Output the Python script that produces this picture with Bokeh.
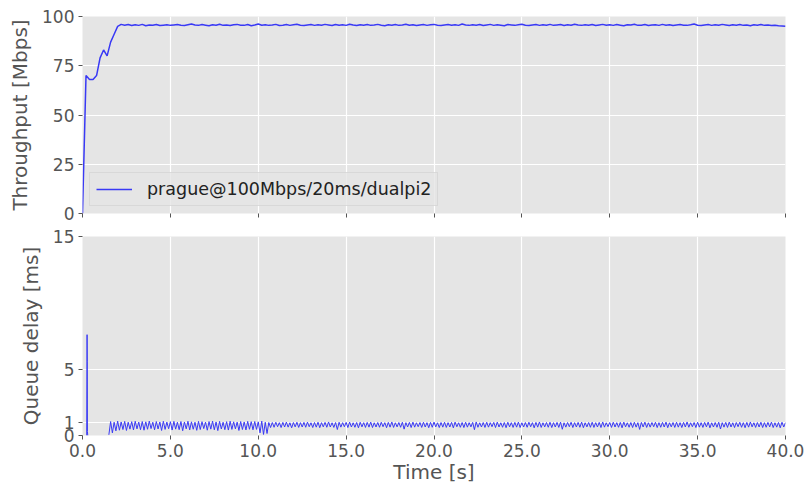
import numpy as np
from bokeh.plotting import figure
from bokeh.layouts import column
from bokeh.models import (FixedTicker, PrintfTickFormatter, Range1d, CustomLabelingPolicy)
from bokeh.embed import file_html
from bokeh.resources import INLINE

# ---------------- data ----------------
series_label = "prague@100Mbps/20ms/dualpi2"

# throughput [Mbps], sampled every ~0.2 s from 0 to 40 s
throughput = [
    0, 70, 68, 68, 70, 79, 83, 80, 87, 91, 95, 96,
    95.6, 95.9, 95.4, 95.8, 95.5, 96.0, 95.3, 95.7, 95.6, 95.9, 95.4, 95.6, 95.8, 95.5, 95.7, 95.9, 95.6, 95.4, 95.8, 96.2,
    95.7, 95.5, 95.9, 95.6, 95.3, 95.8, 95.6, 96.1, 95.5, 95.7, 95.4, 95.8, 96.0, 95.6, 95.5, 95.9, 95.3, 95.7, 96.2, 95.6,
    95.8, 95.5, 95.7, 96.0, 95.4, 95.6, 95.9, 95.5, 95.8, 96.1, 95.6, 95.4, 95.7, 95.9, 95.5, 95.8, 95.6, 96.0, 95.7, 95.4,
    95.9, 95.6, 95.8, 95.5, 96.1, 95.7, 95.4, 95.8, 95.6, 95.9, 95.5, 95.7, 96.0, 95.6, 95.3, 95.8, 95.6, 95.9, 95.5, 95.7,
    96.1, 95.6, 95.8, 95.4, 95.7, 95.9, 95.5, 95.8, 96.0, 95.6, 95.4, 95.7, 95.9, 95.6, 95.8, 95.5, 96.2, 95.7, 95.5, 95.8,
    95.6, 95.9, 95.4, 95.7, 96.0, 95.5, 95.8, 95.6, 95.3, 95.9, 95.7, 95.5, 95.8, 96.1, 95.6, 95.4, 95.7, 95.9, 95.5, 95.8,
    95.6, 96.0, 95.5, 95.7, 95.9, 95.4, 95.8, 95.6, 96.1, 95.7, 95.5, 95.8, 95.6, 95.9, 95.4, 95.7, 96.0, 95.6, 95.8, 95.5,
    95.9, 95.6, 95.3, 95.8, 95.7, 96.1, 95.5, 95.6, 95.9, 95.4, 95.7, 95.8, 95.5, 96.0, 95.6, 95.8, 95.4, 95.7, 95.9, 95.6,
    95.5, 95.8, 96.2, 95.6, 95.4, 95.7, 95.9, 95.5, 95.8, 95.6, 96.0, 95.7, 95.4, 95.8, 95.6, 95.9, 95.5, 95.7, 95.3, 95.8,
    95.6, 95.9, 95.5, 95.7, 95.4, 95.6, 95.3, 95.2, 95.0,
]
throughput_time = np.linspace(0.0, 40.0, len(throughput))

# queue delay [ms]: initial spike
qdelay_spike_time = [0.24, 0.26, 0.27, 0.28, 0.30]
qdelay_spike = [0.0, 7.6, 5.6, 0.3, 0.0]

# queue delay [ms]: from 1.5 s onwards, sampled every 0.1 s
qdelay = [
    0.05, 1.05, 0.20, 1.00, 0.35, 1.08, 0.40, 1.02, 0.45, 1.06, 0.38, 1.00, 0.48, 1.04, 0.42, 1.07, 0.50, 1.01, 0.44, 1.05,
    0.40, 1.03, 0.47, 1.08, 0.52, 1.00, 0.43, 1.05, 0.49, 1.02, 0.38, 1.07, 0.46, 1.01, 0.51, 1.04, 0.41, 1.06, 0.48, 1.00,
    0.44, 1.05, 0.36, 1.02, 0.50, 1.07, 0.42, 1.03, 0.47, 1.00, 0.39, 1.06, 0.45, 1.04, 0.52, 1.01, 0.40, 1.05, 0.48, 1.08,
    0.43, 1.02, 0.37, 1.06, 0.49, 1.00, 0.44, 1.04, 0.41, 1.07, 0.46, 1.03, 0.50, 1.01, 0.38, 1.05, 0.45, 1.02, 0.42, 1.06,
    0.47, 1.04, 0.43, 1.05, 0.46, 1.03, 0.20, 1.08, 0.08, 1.00, 0.15, 0.98, 0.60,
    0.98, 0.62, 1.00, 0.66, 0.97, 0.60, 0.99, 0.64, 1.01, 0.63, 0.96, 0.58, 0.98, 0.65, 1.00, 0.61, 0.97, 0.64, 0.99, 0.62,
    1.01, 0.66, 0.96, 0.60, 0.98, 0.63, 1.00, 0.59, 0.97, 0.65, 0.99, 0.62, 1.02, 0.64, 0.96, 0.61, 0.98, 0.45, 1.00, 0.63,
    0.97, 0.66, 0.99, 0.60, 1.01, 0.64, 0.96, 0.62, 0.98, 0.58, 1.00, 0.65, 0.97, 0.61, 0.99, 0.63, 1.01, 0.60, 0.96, 0.64,
    0.98, 0.62, 1.00, 0.66, 0.97, 0.59, 0.99, 0.63, 1.02, 0.61, 0.96, 0.65, 0.98, 0.62, 1.00, 0.48, 0.97, 0.64, 0.99, 0.60,
    1.01, 0.63, 0.96, 0.66, 0.98, 0.61, 1.00, 0.64, 0.97, 0.59, 0.99, 0.62, 1.01, 0.65, 0.96, 0.60, 0.98, 0.63, 1.00, 0.61,
    0.97, 0.64, 0.99, 0.58, 1.01, 0.66, 0.96, 0.62, 0.98, 0.60, 1.00, 0.63, 0.97, 0.65, 0.99, 0.44, 1.02, 0.62, 0.96, 0.64,
    0.98, 0.61, 1.00, 0.63, 0.97, 0.66, 0.99, 0.60, 1.01, 0.64, 0.96, 0.62, 0.98, 0.59, 1.00, 0.65, 0.97, 0.61, 0.99, 0.63,
    1.01, 0.60, 0.96, 0.64, 0.98, 0.62, 1.00, 0.66, 0.97, 0.58, 0.99, 0.63, 1.02, 0.61, 0.96, 0.65, 0.98, 0.62, 1.00, 0.60,
    0.97, 0.64, 0.99, 0.61, 1.01, 0.47, 0.96, 0.63, 0.98, 0.66, 1.00, 0.60, 0.97, 0.64, 0.99, 0.62, 1.01, 0.59, 0.96, 0.65,
    0.98, 0.62, 1.00, 0.61, 0.97, 0.64, 0.99, 0.60, 1.02, 0.63, 0.96, 0.66, 0.98, 0.61, 1.00, 0.64, 0.97, 0.62, 0.99, 0.58,
    1.01, 0.65, 0.96, 0.62, 0.98, 0.60, 1.00, 0.63, 0.97, 0.46, 0.99, 0.64, 1.01, 0.61, 0.96, 0.63, 0.98, 0.66, 1.00, 0.60,
    0.97, 0.62, 0.99, 0.64, 1.01, 0.59, 0.96, 0.65, 0.98, 0.61, 1.00, 0.63, 0.97, 0.60, 0.99, 0.64, 1.02, 0.62, 0.96, 0.66,
    0.98, 0.60, 1.00, 0.63, 0.97, 0.61, 0.99, 0.65, 1.01, 0.58, 0.96, 0.64, 0.98, 0.62, 1.00, 0.49, 0.97, 0.63, 0.99, 0.61,
    1.01, 0.64, 0.96, 0.60, 0.98, 0.66, 1.00, 0.62, 0.97, 0.59, 0.99, 0.63, 1.02, 0.65, 0.96, 0.61, 0.98, 0.64, 1.00, 0.60,
    0.97, 0.62, 0.99, 0.65, 1.01, 0.60, 0.96, 0.63, 0.98, 0.58, 1.00, 0.64, 0.97,
]
qdelay_time = np.linspace(1.5, 40.0, len(qdelay))

x_ticks = [0, 5, 10, 15, 20, 25, 30, 35, 40]
thr_ticks = [0, 25, 50, 75, 100]
qd_ticks = [0, 1, 5, 15]

# ---------------- style ----------------
FONT = "DejaVu Sans"
BG = "#E5E5E5"
GREY = "#555555"
LINE = "#3939F5"


def style(p, xlabels=True):
    p.background_fill_color = BG
    p.border_fill_color = "white"
    p.outline_line_color = None
    p.grid.grid_line_color = "white"
    p.grid.grid_line_width = 1.2
    for ax in (p.xaxis[0], p.yaxis[0]):
        ax.axis_line_color = None
        ax.major_tick_line_color = GREY
        ax.major_tick_out = 4
        ax.major_tick_in = 0
        ax.minor_tick_line_color = None
        ax.major_label_text_color = GREY
        ax.major_label_text_font = FONT
        ax.major_label_text_font_size = "17px"
        ax.major_label_standoff = 4
        ax.axis_label_text_color = GREY
        ax.axis_label_text_font = FONT
        ax.axis_label_text_font_size = "20px"
        ax.axis_label_text_font_style = "normal"
        ax.axis_label_standoff = 7
    p.xaxis.ticker = FixedTicker(ticks=x_ticks)
    p.xaxis.formatter = PrintfTickFormatter(format="%.1f")
    if not xlabels:
        # keep the tick marks, draw no tick labels
        p.xaxis.major_label_policy = CustomLabelingPolicy(
            code="for (const i of indices) { indices.unset(i) } return indices")
        p.xaxis.major_label_text_font_size = "1px"
        p.xaxis.major_label_standoff = 0


W = 806
LEFT = 82
RIGHT = 21

p1 = figure(width=W, height=225, output_backend="svg", toolbar_location=None,
            x_range=Range1d(0, 40), y_range=Range1d(0, 100),
            min_border_left=LEFT, min_border_right=RIGHT, min_border_top=16, min_border_bottom=12)
style(p1, xlabels=False)
p1.yaxis.ticker = FixedTicker(ticks=thr_ticks)
p1.yaxis.axis_label = "Throughput [Mbps]"
p1.line(throughput_time, throughput, line_color=LINE, line_width=1.5, legend_label=series_label)

legend = p1.legend[0]
legend.location = "bottom_left"
legend.label_text_font = FONT
legend.label_text_font_size = "17.5px"
legend.label_text_color = "#222222"
legend.glyph_width = 36
legend.glyph_height = 20
legend.label_standoff = 15
legend.padding = 6
legend.margin = 7
legend.border_line_color = "#CCCCCC"
legend.border_line_width = 1
legend.background_fill_color = BG
legend.background_fill_alpha = 0.8

p2 = figure(width=W, height=261, output_backend="svg", toolbar_location=None,
            x_range=Range1d(0, 40), y_range=Range1d(0, 15),
            min_border_left=LEFT, min_border_right=RIGHT, min_border_top=11, min_border_bottom=51)
style(p2, xlabels=True)
p2.yaxis.ticker = FixedTicker(ticks=qd_ticks)
p2.yaxis.axis_label = "Queue delay [ms]"
p2.xaxis.axis_label = "Time [s]"
p2.xaxis.axis_label_standoff = 0
p2.line(qdelay_spike_time, qdelay_spike, line_color=LINE, line_width=1.0)
p2.line(qdelay_time, qdelay, line_color=LINE, line_width=1.0)

layout = column(p1, p2, spacing=0)
open("out.html", "w").write(file_html(layout, INLINE))
